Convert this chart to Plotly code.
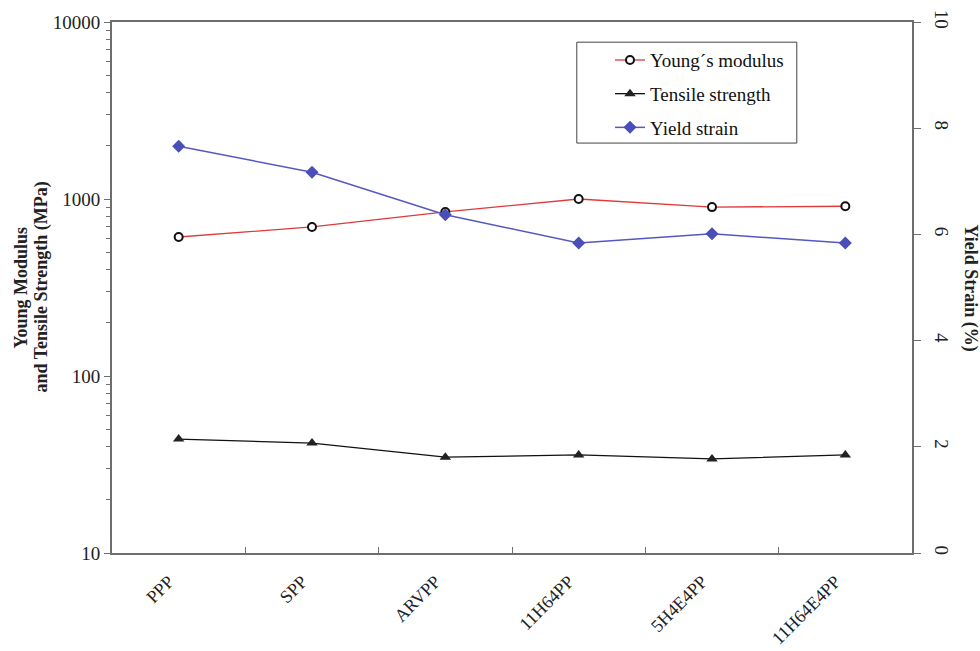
import plotly.graph_objects as go

# Samples and measured mechanical properties
samples = ["PPP", "SPP", "ARVPP", "11H64PP", "5H4E4PP", "11H64E4PP"]
young_modulus = [610, 695, 845, 1000, 900, 910]        # MPa
tensile_strength = [44, 41.8, 34.8, 35.8, 34.0, 35.8]  # MPa
yield_strain = [7.66, 7.17, 6.37, 5.84, 6.01, 5.84]    # %

left_ticks = [10, 100, 1000, 10000]
minor_ticks = [m * d for d in (10, 100, 1000) for m in range(2, 10)]
right_ticks = [0, 2, 4, 6, 8, 10]

FONT = "Liberation Serif"
AXIS = "#6e6e6e"
TXT = "#222222"

fig = go.Figure()
fig.add_trace(go.Scatter(
    x=samples, y=young_modulus, name="Young\u00b4s modulus",
    legendgroup="a", mode="lines+markers",
    line=dict(color="#e0393b", width=1.3),
    marker=dict(symbol="circle", size=8, color="white",
                line=dict(color="#111111", width=2)),
))
fig.add_trace(go.Scatter(
    x=samples, y=tensile_strength, name="Tensile strength",
    legendgroup="b", mode="lines+markers",
    line=dict(color="#111111", width=1.3),
    marker=dict(symbol="triangle-up", size=10, color="#222222"),
))
fig.add_trace(go.Scatter(
    x=samples, y=yield_strain, name="Yield strain", yaxis="y2",
    legendgroup="c", mode="lines+markers",
    line=dict(color="#5458c0", width=1.5),
    marker=dict(symbol="diamond", size=10, color="#4a4eb8"),
))

fig.update_layout(
    width=980, height=651,
    margin=dict(l=112, r=68, t=22, b=98),
    paper_bgcolor="white", plot_bgcolor="white",
    font=dict(family=FONT, size=19, color=TXT),
    showlegend=True,
    legend=dict(
        x=0.6225, y=0.964, xanchor="left", yanchor="top",
        bgcolor="rgba(0,0,0,0)", borderwidth=0,
        font=dict(family=FONT, size=19, color="#111111"),
        itemwidth=30, tracegroupgap=6,
    ),
    shapes=[dict(
        type="rect", xref="paper", yref="paper",
        x0=0.581, x1=0.856, y0=0.772, y1=0.962,
        line=dict(color="#444444", width=1), fillcolor="rgba(0,0,0,0)",
        layer="below",
    )],
    xaxis=dict(
        type="category", tickson="boundaries", range=[-0.5, 5.5],
        automargin=False,
        showline=True, linecolor=AXIS, linewidth=2, mirror=True,
        ticks="inside", ticklen=6, tickcolor=AXIS,
        tickangle=-45, ticklabelstandoff=9, ticklabelshift=-10,
        showgrid=False, zeroline=False,
        tickfont=dict(family=FONT, size=18, color=TXT),
    ),
    yaxis=dict(
        type="log", range=[1, 4], automargin=False,
        tickvals=left_ticks, ticktext=[str(v) for v in left_ticks],
        showline=True, linecolor=AXIS, linewidth=2,
        ticks="outside", ticklen=6, tickcolor=AXIS,
        minor=dict(tickvals=minor_ticks, ticks="outside", ticklen=4,
                   tickcolor=AXIS, showgrid=False),
        showgrid=False, zeroline=False,
        tickfont=dict(family=FONT, size=19, color=TXT),
    ),
    yaxis2=dict(
        overlaying="y", side="right", range=[0, 10], automargin=False,
        tickvals=right_ticks,
        showline=True, linecolor=AXIS, linewidth=2,
        ticks="outside", ticklen=7, tickcolor=AXIS,
        tickangle=90, ticklabelstandoff=6,
        showgrid=False, zeroline=False,
        tickfont=dict(family=FONT, size=19, color=TXT),
    ),
    annotations=[
        dict(text="<b>Young Modulus</b>",
             xref="paper", yref="paper", x=(20 - 112) / 800, y=0.5,
             xanchor="center", yanchor="middle", textangle=-90,
             showarrow=False, font=dict(family=FONT, size=18, color=TXT)),
        dict(text="<b>and Tensile Strength (MPa)</b>",
             xref="paper", yref="paper", x=(41 - 112) / 800, y=0.5,
             xanchor="center", yanchor="middle", textangle=-90,
             showarrow=False, font=dict(family=FONT, size=18, color=TXT)),
        dict(text="<b>Yield Strain (%)</b>",
             xref="paper", yref="paper", x=(970 - 112) / 800, y=0.5,
             xanchor="center", yanchor="middle", textangle=90,
             showarrow=False, font=dict(family=FONT, size=18, color=TXT)),
    ],
)

fig.write_html("out.html")
